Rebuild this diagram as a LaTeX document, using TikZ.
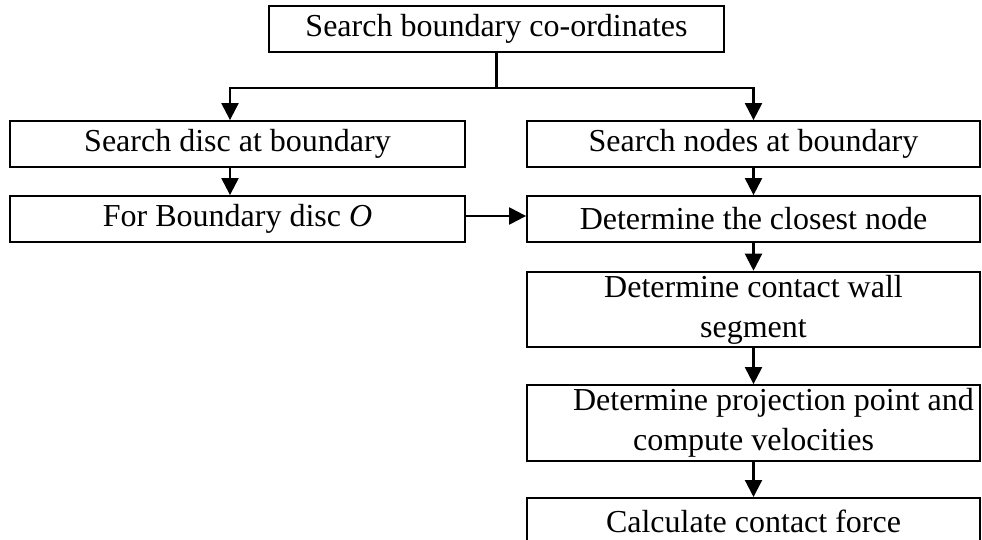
\documentclass[tikz,border=0pt]{standalone}
\usepackage{fontspec}
\setmainfont{Liberation Serif}
\usetikzlibrary{arrows.meta}

\begin{document}
\begin{tikzpicture}[
    x=1pt, y=-1pt,
    box/.style={draw, line width=1.8pt, minimum width=453pt, minimum height=46pt, inner xsep=1pt, align=center, font=\fontsize{32}{40}\selectfont},
    arrow/.style={-{Triangle[length=17pt, width=17pt]}, line width=2.2pt}
]
    \useasboundingbox (0,0) rectangle (982,540);
    \clip (0,0) rectangle (982,540);

    % Start
    \node[box, minimum width=455pt] (coords) at (496.5,29) {Search boundary co-ordinates};

    % Disc side
    \node[box, minimum width=455pt] (disc) at (237.5,144) {Search disc at boundary};
    \node[box, minimum width=455pt] (bdisc) at (237.5,219) {For Boundary disc \textit{O}};

    % Wall side
    \node[box] (nodes) at (753.5,144) {Search nodes at boundary};
    \node[box] (closest) at (753.5,219) {Determine the closest node};
    \node[box, minimum height=75pt] (wall) at (753.5,309.5) {Determine contact wall\\segment};
    \node[box, minimum height=76pt] (proj) at (753.5,423) {\hspace*{40pt}Determine projection point and\\compute velocities};
    \node[box, anchor=north] (force) at (753.5,497) {Calculate contact force};

    % Arrows
    \draw[line width=2.2pt] (coords.south) -- ++(0,35) coordinate (split);
    \draw[arrow] (split) -| ([xshift=-7.5pt]disc.north);
    \draw[arrow] (split) -| (nodes.north);
    \draw[arrow] ([xshift=-7.5pt]disc.south) -- ([xshift=-7.5pt]bdisc.north);
    \draw[arrow] ([yshift=3pt]bdisc.east) -- ([yshift=3pt]closest.west);
    \draw[arrow] (nodes) -- (closest);
    \draw[arrow] (closest) -- (wall);
    \draw[arrow] (wall) -- (proj);
    \draw[arrow] (proj) -- (force);
\end{tikzpicture}
\end{document}
